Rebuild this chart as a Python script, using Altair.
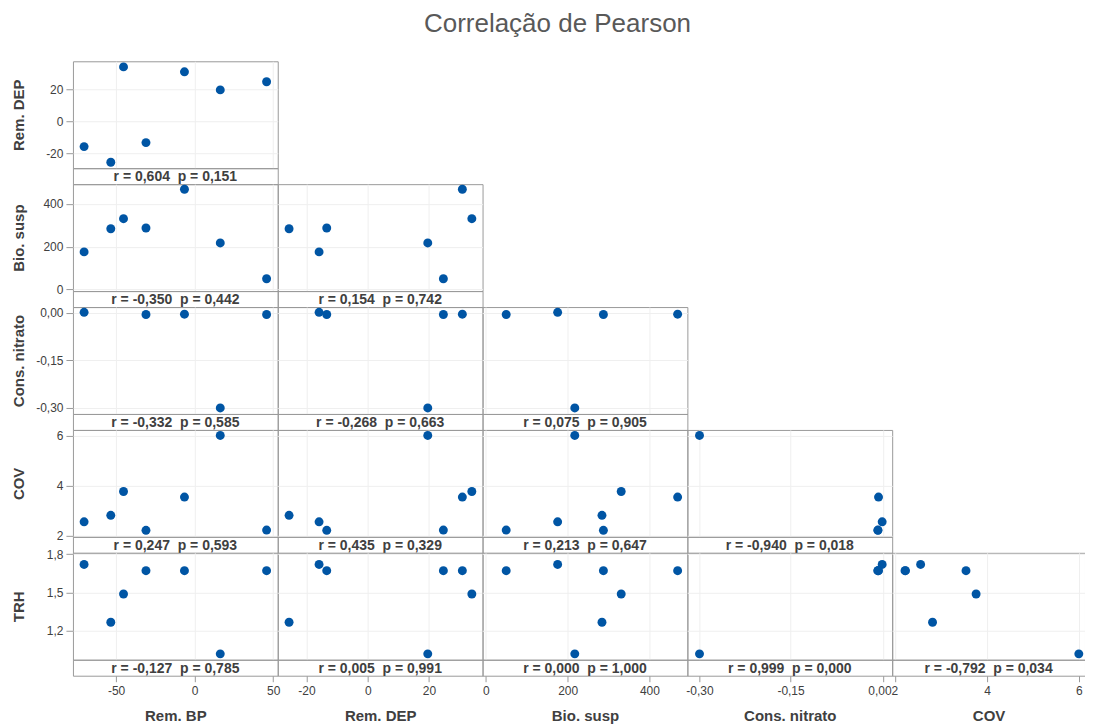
import altair as alt
import pandas as pd

FONT = "Liberation Sans"
TEXT_COLOR = "#404040"
TITLE_COLOR = "#595959"
POINT_COLOR = "#0055A4"
BORDER = "#9a9a9a"
GRID = "#efefef"

TITLE = "Correlação de Pearson"

x_vars = ["Rem. BP", "Rem. DEP", "Bio. susp", "Cons. nitrato", "COV"]
y_vars = ["Rem. DEP", "Bio. susp", "Cons. nitrato", "COV", "TRH"]

# observations (7 samples; Cons. nitrato missing for two of them)
rem_bp = [-70.4, -53.4, -45.3, -31.0, -6.5, 16.3, 45.8]
rem_dep = [-15.9, -25.7, 34.0, -13.4, 30.9, 19.6, 24.7]
bio_susp = [175.6, 284.0, 331.0, 287.5, 469.0, 217.5, 49.8]
cons_nitrato = [0.001, None, None, -0.006, -0.005, -0.300, -0.006]
cov = [2.55, 2.81, 3.76, 2.21, 3.54, 6.00, 2.22]
trh = [1.719, 1.265, 1.487, 1.670, 1.670, 1.017, 1.670]

values = {
    "Rem. BP": rem_bp,
    "Rem. DEP": rem_dep,
    "Bio. susp": bio_susp,
    "Cons. nitrato": cons_nitrato,
    "COV": cov,
    "TRH": trh,
}

x_domains = {
    "Rem. BP": [-77.5, 52.9],
    "Rem. DEP": [-29.4, 37.5],
    "Bio. susp": [-8, 492.8],
    "Cons. nitrato": [-0.320, 0.0175],
    "COV": [1.93, 6.135],
}
y_domains = {
    "Rem. DEP": [-29.4, 37.5],
    "Bio. susp": [-8, 492.8],
    "Cons. nitrato": [-0.319, 0.0175],
    "COV": [1.95, 6.22],
    "TRH": [0.971, 1.81],
}

x_ticks = {
    "Rem. BP": [-50, 0, 50],
    "Rem. DEP": [-20, 0, 20],
    "Bio. susp": [0, 200, 400],
    "Cons. nitrato": [-0.30, -0.15, 0.002],
    "COV": [2, 4, 6],
}
x_tick_labels = {
    "Rem. BP": ["-50", "0", "50"],
    "Rem. DEP": ["-20", "0", "20"],
    "Bio. susp": ["0", "200", "400"],
    "Cons. nitrato": ["-0,30", "-0,15", "0,002"],
    "COV": ["", "4", "6"],
}
y_ticks = {
    "Rem. DEP": [-20, 0, 20],
    "Bio. susp": [0, 200, 400],
    "Cons. nitrato": [-0.30, -0.15, 0.0],
    "COV": [2, 4, 6],
    "TRH": [1.2, 1.5, 1.8],
}
y_tick_labels = {
    "Rem. DEP": ["-20", "0", "20"],
    "Bio. susp": ["0", "200", "400"],
    "Cons. nitrato": ["-0,30", "-0,15", "0,00"],
    "COV": ["2", "4", "6"],
    "TRH": ["1,2", "1,5", "1,8"],
}

stat_labels = [
    ["r = 0,604  p = 0,151"],
    ["r = -0,350  p = 0,442", "r = 0,154  p = 0,742"],
    ["r = -0,332  p = 0,585", "r = -0,268  p = 0,663", "r = 0,075  p = 0,905"],
    ["r = 0,247  p = 0,593", "r = 0,435  p = 0,329", "r = 0,213  p = 0,647",
     "r = -0,940  p = 0,018"],
    ["r = -0,127  p = 0,785", "r = 0,005  p = 0,991", "r = 0,000  p = 1,000",
     "r = 0,999  p = 0,000", "r = -0,792  p = 0,034"],
]

PANEL_W = [205, 205, 205, 205, 193]
PANEL_H = 107
STRIP_H = 16


def label_expr(ticks, labels):
    expr = "''"
    for v, lab in reversed(list(zip(ticks, labels))):
        expr = f"abs(datum.value - ({v})) < 1e-9 ? '{lab}' : {expr}"
    return expr


def scatter(ci, ri):
    xv, yv = x_vars[ci], y_vars[ri]
    df = pd.DataFrame({"x": values[xv], "y": values[yv]}).dropna()
    xt, xl = x_ticks[xv], x_tick_labels[xv]
    yt, yl = y_ticks[yv], y_tick_labels[yv]
    if ri == len(y_vars) - 1:
        xaxis = alt.Axis(values=xt, labelExpr=label_expr(xt, xl), title=xv,
                         offset=STRIP_H, domain=False, grid=True, tickSize=6,
                         labelPadding=4, titlePadding=12)
    else:
        xaxis = alt.Axis(values=xt, labels=False, ticks=False, domain=False,
                         grid=True, title=None)
    if ci == 0:
        yaxis = alt.Axis(values=yt, labelExpr=label_expr(yt, yl), title=yv,
                         domain=False, grid=True, tickSize=7, labelPadding=3,
                         minExtent=38, maxExtent=38, titlePadding=8)
    else:
        yaxis = alt.Axis(values=yt, labels=False, ticks=False, domain=False,
                         grid=True, title=None)
    return alt.Chart(df).mark_circle(size=80, color=POINT_COLOR, opacity=1).encode(
        x=alt.X("x:Q", scale=alt.Scale(domain=x_domains[xv], nice=False, zero=False), axis=xaxis),
        y=alt.Y("y:Q", scale=alt.Scale(domain=y_domains[yv], nice=False, zero=False), axis=yaxis),
    ).properties(width=PANEL_W[ci], height=PANEL_H)


def strip(ci, ri):
    txt = stat_labels[ri][ci].replace("  ", " \u00a0")
    df = pd.DataFrame({"t": [txt]})
    return alt.Chart(df).mark_text(
        font=FONT, fontSize=14, fontWeight="bold", color=TEXT_COLOR,
        align="center", baseline="middle"
    ).encode(
        text="t:N", x=alt.value(PANEL_W[ci] / 2), y=alt.value(STRIP_H / 2 + 1)
    ).properties(width=PANEL_W[ci], height=STRIP_H)


def blank(ci, h):
    df = pd.DataFrame({"t": [""]})
    return alt.Chart(df).mark_text(opacity=0).encode(
        text="t:N", x=alt.value(0), y=alt.value(0)
    ).properties(width=PANEL_W[ci], height=h,
                 view=alt.ViewBackground(stroke="transparent"))


cells = []
for ri in range(len(y_vars)):
    for ci in range(len(x_vars)):
        cells.append(scatter(ci, ri) if ci <= ri else blank(ci, PANEL_H))
    for ci in range(len(x_vars)):
        cells.append(strip(ci, ri) if ci <= ri else blank(ci, STRIP_H))

chart = alt.concat(
    *cells, columns=len(x_vars), spacing=0, bounds="flush",
    title=alt.TitleParams(TITLE, fontSize=26, font=FONT, fontWeight="normal",
                          color=TITLE_COLOR, anchor="middle", offset=18, dx=9),
    padding={"left": 3, "top": 2, "right": -1, "bottom": 0},
).configure_view(
    stroke=BORDER, strokeWidth=1
).configure_axis(
    labelFont=FONT, labelFontSize=12, labelColor=TEXT_COLOR,
    titleFont=FONT, titleFontSize=15, titleFontWeight="bold", titleColor=TEXT_COLOR,
    tickColor=BORDER, gridColor=GRID, gridWidth=1,
)

chart.save("out.html", embed_options={"renderer": "svg", "actions": False})
